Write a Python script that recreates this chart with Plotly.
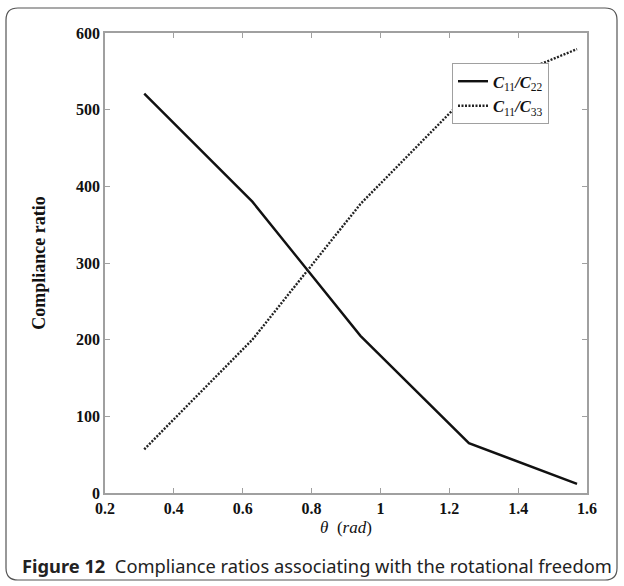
import plotly.graph_objects as go

theta = [0.314, 0.628, 0.942, 1.257, 1.571]
ratio_c22 = [521, 380, 205, 65, 12]
ratio_c33 = [57, 200, 377, 521, 579]
x_ticks = [0.2, 0.4, 0.6, 0.8, 1.0, 1.2, 1.4, 1.6]
x_tick_labels = ["0.2", "0.4", "0.6", "0.8", "1", "1.2", "1.4", "1.6"]
y_ticks = [0, 100, 200, 300, 400, 500, 600]

W, H = 624, 586
L, R, T, B = 105, 37, 33, 93
pw, ph = W - L - R, H - T - B

def px(x):
    return (x - L) / pw

def py(y):
    return (H - B - y) / ph

serif = "Liberation Serif, Times New Roman, serif"

fig = go.Figure()
fig.add_trace(go.Scatter(
    x=theta, y=ratio_c22, mode="lines",
    line=dict(color="#111111", width=2.4),
    name="<b><i>C</i></b><sub>11</sub><b><i>/C</i></b><sub>22</sub>"))
fig.add_trace(go.Scatter(
    x=theta, y=ratio_c33, mode="lines",
    line=dict(color="#222222", width=2.4, dash="2px,1.5px"),
    name="<b><i>C</i></b><sub>11</sub><b><i>/C</i></b><sub>33</sub>"))

axis_common = dict(showgrid=False, zeroline=False, showline=True,
                   linecolor="#a0a0a0", linewidth=1.5, mirror="ticks",
                   ticks="inside", ticklen=5, tickcolor="#a0a0a0",
                   tickfont=dict(family=serif, size=16, color="#111", weight="bold"))

fig.update_xaxes(range=[0.2, 1.6], tickvals=x_ticks, ticktext=x_tick_labels,
                 title=dict(text="<i>θ</i>  (<i>rad</i>)", font=dict(family=serif, size=17, color="#111"), standoff=5),
                 **axis_common)
fig.update_yaxes(range=[0, 600], tickvals=y_ticks,
                 title=dict(text="<b>Compliance ratio</b>", font=dict(family=serif, size=18, color="#111"), standoff=26),
                 **axis_common)

# rounded frame
x0, x1, y0, y1, r = 6, 617, 8, 580, 12
def P(x, y):
    return f"{px(x):.5f},{py(y):.5f}"
path = (f"M {P(x0 + r, y0)} L {P(x1 - r, y0)} Q {P(x1, y0)} {P(x1, y0 + r)} "
        f"L {P(x1, y1 - r)} Q {P(x1, y1)} {P(x1 - r, y1)} "
        f"L {P(x0 + r, y1)} Q {P(x0, y1)} {P(x0, y1 - r)} "
        f"L {P(x0, y0 + r)} Q {P(x0, y0)} {P(x0 + r, y0)} Z")
fig.add_shape(type="path", path=path, xref="paper", yref="paper",
              line=dict(color="#555555", width=1.2))

fig.add_annotation(x=px(20), y=py(565), xref="paper", yref="paper",
                   xanchor="left", yanchor="middle", showarrow=False,
                   text="<b>Figure 12</b>  Compliance ratios associating with the rotational freedom",
                   font=dict(family="Noto Sans, Open Sans, sans-serif", size=18.3, color="#222"))

fig.update_layout(
    width=W, height=H,
    margin=dict(l=L, r=R, t=T, b=B),
    paper_bgcolor="white", plot_bgcolor="white",
    showlegend=True,
    legend=dict(x=px(452), y=py(63), xanchor="left", yanchor="top",
                bgcolor="white", bordercolor="#a0a0a0", borderwidth=1,
                font=dict(family=serif, size=16.5, color="#111"),
                tracegroupgap=0, itemwidth=30),
)

fig.write_html("out.html", config={"displayModeBar": False},
               post_script="document.body.style.margin='0';document.body.style.padding='0';")
